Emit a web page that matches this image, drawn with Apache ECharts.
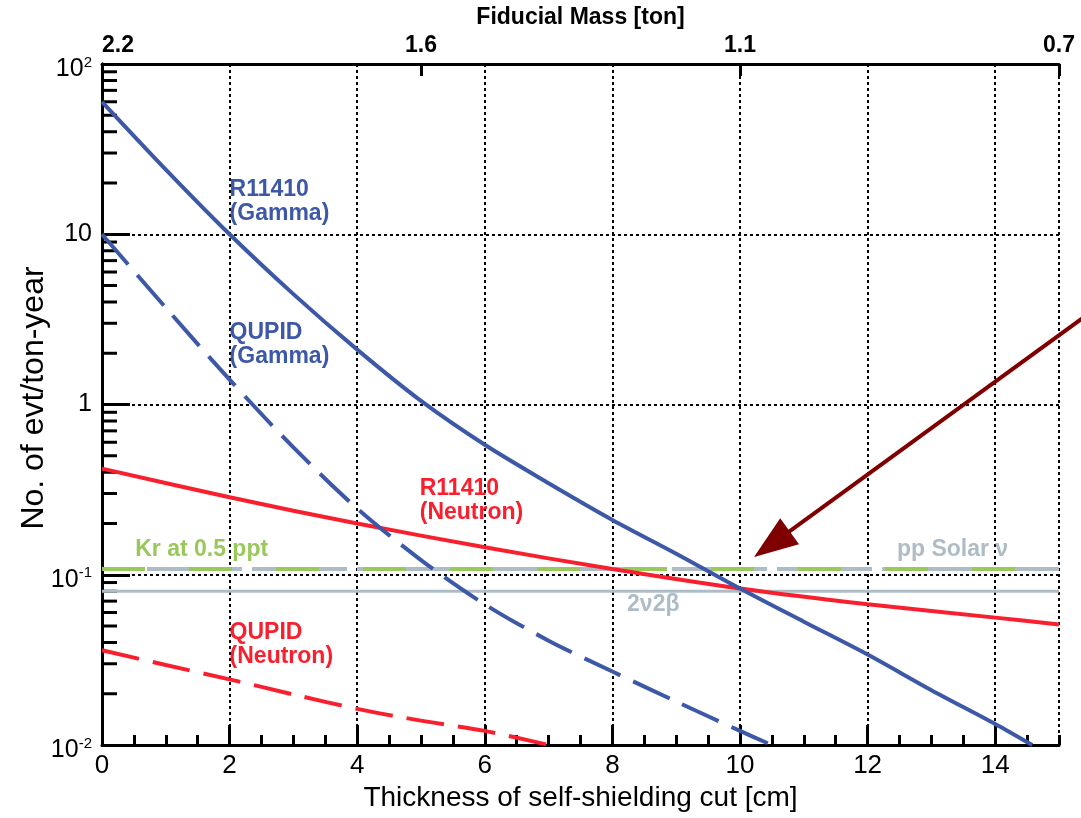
<!DOCTYPE html>
<html>
<head>
<meta charset="utf-8">
<script src="https://cdn.jsdelivr.net/npm/echarts@6/dist/echarts.min.js"></script>
<style>
  html, body { margin: 0; padding: 0; background: #ffffff; }
  #chart { width: 1081px; height: 818px; }
</style>
</head>
<body>
<div id="chart"></div>
<script>
// Background rate (evt/ton-year) against thickness of the self-shielding cut (cm)
const r11410GammaX = [0, 1, 2, 3, 4, 5, 6, 7, 8, 9, 10, 11, 12, 13, 14, 14.58];
const r11410GammaY = [60, 24, 10, 4.45, 2.1, 1.05, 0.58, 0.345, 0.21, 0.133, 0.083, 0.053, 0.034, 0.021, 0.0133, 0.01];

const qupidGammaX = [0, 1, 2, 3, 4, 5, 6, 7, 8, 9, 10, 10.5];
const qupidGammaY = [10, 3.7, 1.4, 0.56, 0.245, 0.122, 0.067, 0.041, 0.027, 0.018, 0.0121, 0.01];

const r11410NeutronX = [0, 2, 4, 6, 8, 10, 12, 14, 15];
const r11410NeutronY = [0.42, 0.285, 0.2, 0.145, 0.108, 0.083, 0.067, 0.056, 0.051];

const qupidNeutronX = [0, 1, 2, 3, 4, 5, 6, 7];
const qupidNeutronY = [0.036, 0.0295, 0.0243, 0.0198, 0.0163, 0.0139, 0.0121, 0.0100];

// Flat reference levels across the whole range
const levelX = [0, 15];
const krLevel = 0.108;
const ppSolarLevel = 0.108;
const twoNuTwoBetaLevel = 0.08;

// Top axis: fiducial mass for a given cut
const massTicks = [0, 5, 10, 15];
const massLabels = ['2.2', '1.6', '1.1', '0.7'];

// Left axis decade labels
const yTickValues = [0.01, 0.1, 1, 10, 100];
const yTickBase = ['10', '10', '1', '10', '10'];
const yTickExp = ['-2', '-1', '', '', '2'];

// Log minor tick values
const yMinorTicks = [];
[0.01, 0.1, 1, 10].forEach(d => { for (let k = 2; k <= 9; k++) yMinorTicks.push(+(d * k).toPrecision(3)); });

// Annotation text anchors (data coordinates: left edge, vertical centre)
const notes = [
  { text: 'R11410\n(Gamma)',   x: 2.0,   y: 15.5,   color: '#3d58a7' },
  { text: 'QUPID\n(Gamma)',    x: 2.0,   y: 2.24,   color: '#3d58a7' },
  { text: 'R11410\n(Neutron)', x: 4.98,  y: 0.271,  color: '#f8202e' },
  { text: 'QUPID\n(Neutron)',  x: 2.0,   y: 0.0386, color: '#f8202e' },
  { text: 'Kr at 0.5 ppt',     x: 0.52,  y: 0.14,   color: '#98c95a' },
  { text: 'pp Solar \u03bd',   x: 12.46, y: 0.14,   color: '#aebcc6' },
  { text: '2\u03bd2\u03b2',    x: 8.23,  y: 0.0664, color: '#aebcc6' }
];

// Pointer arrow: tail and tip in data coordinates
const arrowTail = [15.5, 3.49];
const arrowTip = [10.22, 0.127];

const FONT = 'Liberation Sans';
const BLUE = '#3d58a7';
const RED = '#f8202e';
const GREEN = '#98c95a';
const GREY = '#aebcc6';

const pairs = (xs, ys) => xs.map((x, i) => [x, ys[i]]);
const gridDots = { show: true, lineStyle: { color: '#000', width: 2, type: [3, 3] } };

const chart = echarts.init(document.getElementById('chart'), null, { renderer: 'canvas' });

chart.setOption({
  backgroundColor: '#ffffff',
  animation: false,
  grid: { left: 102, right: 22, top: 64, bottom: 73 },
  xAxis: [
    {
      type: 'value', position: 'bottom', min: 0, max: 15, interval: 2,
      name: 'Thickness of self-shielding cut [cm]', nameLocation: 'middle', nameGap: 34,
      nameTextStyle: { fontFamily: FONT, fontSize: 28, color: '#000' },
      axisLine: { lineStyle: { color: '#000', width: 3 } },
      axisTick: { inside: true, length: 20, lineStyle: { color: '#000', width: 3 } },
      axisLabel: { fontFamily: FONT, fontSize: 26, color: '#000', margin: 8, showMaxLabel: false },
      splitLine: gridDots
    },
    {
      type: 'value', position: 'bottom', min: 0, max: 15, interval: 0.5,
      axisLine: { show: false },
      axisTick: { inside: true, length: 10, lineStyle: { color: '#000', width: 3 } },
      axisLabel: { show: false },
      splitLine: { show: false }
    },
    {
      type: 'value', position: 'top', min: 0, max: 15, interval: 5,
      name: 'Fiducial Mass [ton]', nameLocation: 'middle', nameGap: 31,
      nameTextStyle: { fontFamily: FONT, fontSize: 23, fontWeight: 'bold', color: '#000' },
      axisLine: { lineStyle: { color: '#000', width: 3 } },
      axisTick: { inside: true, length: 12, lineStyle: { color: '#000', width: 3 } },
      axisLabel: {
        fontFamily: FONT, fontSize: 23, fontWeight: 'bold', color: '#000', margin: 7,
        alignMinLabel: 'left',
        formatter: v => { const i = massTicks.indexOf(v); return i >= 0 ? massLabels[i] : ''; }
      },
      splitLine: { show: false }
    }
  ],
  yAxis: [
    {
      type: 'log', logBase: 10, min: 0.01, max: 100, position: 'left',
      axisLine: { lineStyle: { color: '#000', width: 3 } },
      axisTick: { inside: true, length: 28, lineStyle: { color: '#000', width: 3 } },
      axisLabel: {
        margin: 10,
        formatter: v => {
          const i = yTickValues.findIndex(t => Math.abs(Math.log10(t) - Math.log10(v)) < 1e-6);
          if (i < 0) return '';
          return yTickExp[i]
            ? '{g| }\n{b|' + yTickBase[i] + '}{s|' + yTickExp[i] + '}'
            : '{b|' + yTickBase[i] + '}';
        },
        rich: {
          g: { fontSize: 1, lineHeight: 10 },
          b: { fontFamily: FONT, fontSize: 25, color: '#000', lineHeight: 28 },
          s: { fontFamily: FONT, fontSize: 15, color: '#000', lineHeight: 16, verticalAlign: 'top' }
        }
      },
      splitLine: gridDots
    },
    {
      type: 'log', logBase: 10, min: 0.01, max: 100, position: 'right',
      axisLine: { show: true, lineStyle: { color: '#000', width: 3 } },
      axisTick: { show: false }, axisLabel: { show: false }, splitLine: { show: false }
    }
  ],
  series: [
    {
      name: 'y minor ticks', type: 'custom', xAxisIndex: 0, yAxisIndex: 0, silent: true, clip: false,
      data: yMinorTicks.map(v => [0, v]),
      renderItem: (params, api) => {
        const p = api.coord([api.value(0), api.value(1)]);
        return { type: 'line', shape: { x1: p[0], y1: p[1], x2: p[0] + 15, y2: p[1] },
                 style: { stroke: '#000', lineWidth: 3 } };
      }
    },
    {
      name: '2v2b', type: 'line', data: pairs(levelX, [twoNuTwoBetaLevel, twoNuTwoBetaLevel]),
      showSymbol: false, lineStyle: { color: GREY, width: 3 }
    },
    {
      name: 'pp Solar', type: 'line', data: pairs(levelX, [ppSolarLevel, ppSolarLevel]),
      showSymbol: false, lineStyle: { color: GREY, width: 4, type: [95, 10], dashOffset: 60 }
    },
    {
      name: 'Kr 0.5 ppt', type: 'line', data: pairs(levelX, [krLevel, krLevel]),
      showSymbol: false, lineStyle: { color: GREEN, width: 4, type: [43, 44] }
    },
    {
      name: 'R11410 Neutron', type: 'line', data: pairs(r11410NeutronX, r11410NeutronY),
      showSymbol: false, smooth: 0.3, lineStyle: { color: RED, width: 4 }
    },
    {
      name: 'QUPID Neutron', type: 'line', data: pairs(qupidNeutronX, qupidNeutronY),
      showSymbol: false, smooth: 0.3, lineStyle: { color: RED, width: 4, type: [38, 14] }
    },
    {
      name: 'QUPID Gamma', type: 'line', data: pairs(qupidGammaX, qupidGammaY),
      showSymbol: false, smooth: 0.3, lineStyle: { color: BLUE, width: 4, type: [40, 14] }
    },
    {
      name: 'R11410 Gamma', type: 'line', data: pairs(r11410GammaX, r11410GammaY),
      showSymbol: false, smooth: 0.3, lineStyle: { color: BLUE, width: 4 }
    }
  ]
});

// Annotations and arrow placed through the chart's own coordinate system
const toPx = d => chart.convertToPixel({ xAxisIndex: 0, yAxisIndex: 0 }, d);
const graphics = notes.map(n => {
  const p = toPx([n.x, n.y]);
  return {
    type: 'text', x: p[0], y: p[1], silent: true,
    style: {
      text: n.text, fill: n.color, font: 'bold 23px "' + FONT + '"',
      lineHeight: 24, align: 'left', verticalAlign: 'middle'
    }
  };
});

const tail = toPx(arrowTail);
const tip = toPx(arrowTip);
const dx = tip[0] - tail[0], dy = tip[1] - tail[1];
const len = Math.hypot(dx, dy);
const ux = dx / len, uy = dy / len;
const headLen = 44, headHalf = 16;
const bx = tip[0] - ux * headLen, by = tip[1] - uy * headLen;
graphics.push({
  type: 'line', silent: true,
  shape: { x1: tail[0], y1: tail[1], x2: bx + ux * 4, y2: by + uy * 4 },
  style: { stroke: '#7f0000', lineWidth: 4 }
});
graphics.push({
  type: 'polygon', silent: true,
  shape: { points: [[tip[0], tip[1]], [bx - uy * headHalf, by + ux * headHalf], [bx + uy * headHalf, by - ux * headHalf]] },
  style: { fill: '#7f0000' }
});

// Rotated left-axis title
graphics.push({
  type: 'text', x: 34, y: 398, rotation: Math.PI / 2, silent: true,
  style: { text: 'No. of evt/ton-year', fill: '#000', font: '32px "' + FONT + '"', align: 'center', verticalAlign: 'middle' }
});

chart.setOption({ graphic: graphics });
</script>
</body>
</html>
